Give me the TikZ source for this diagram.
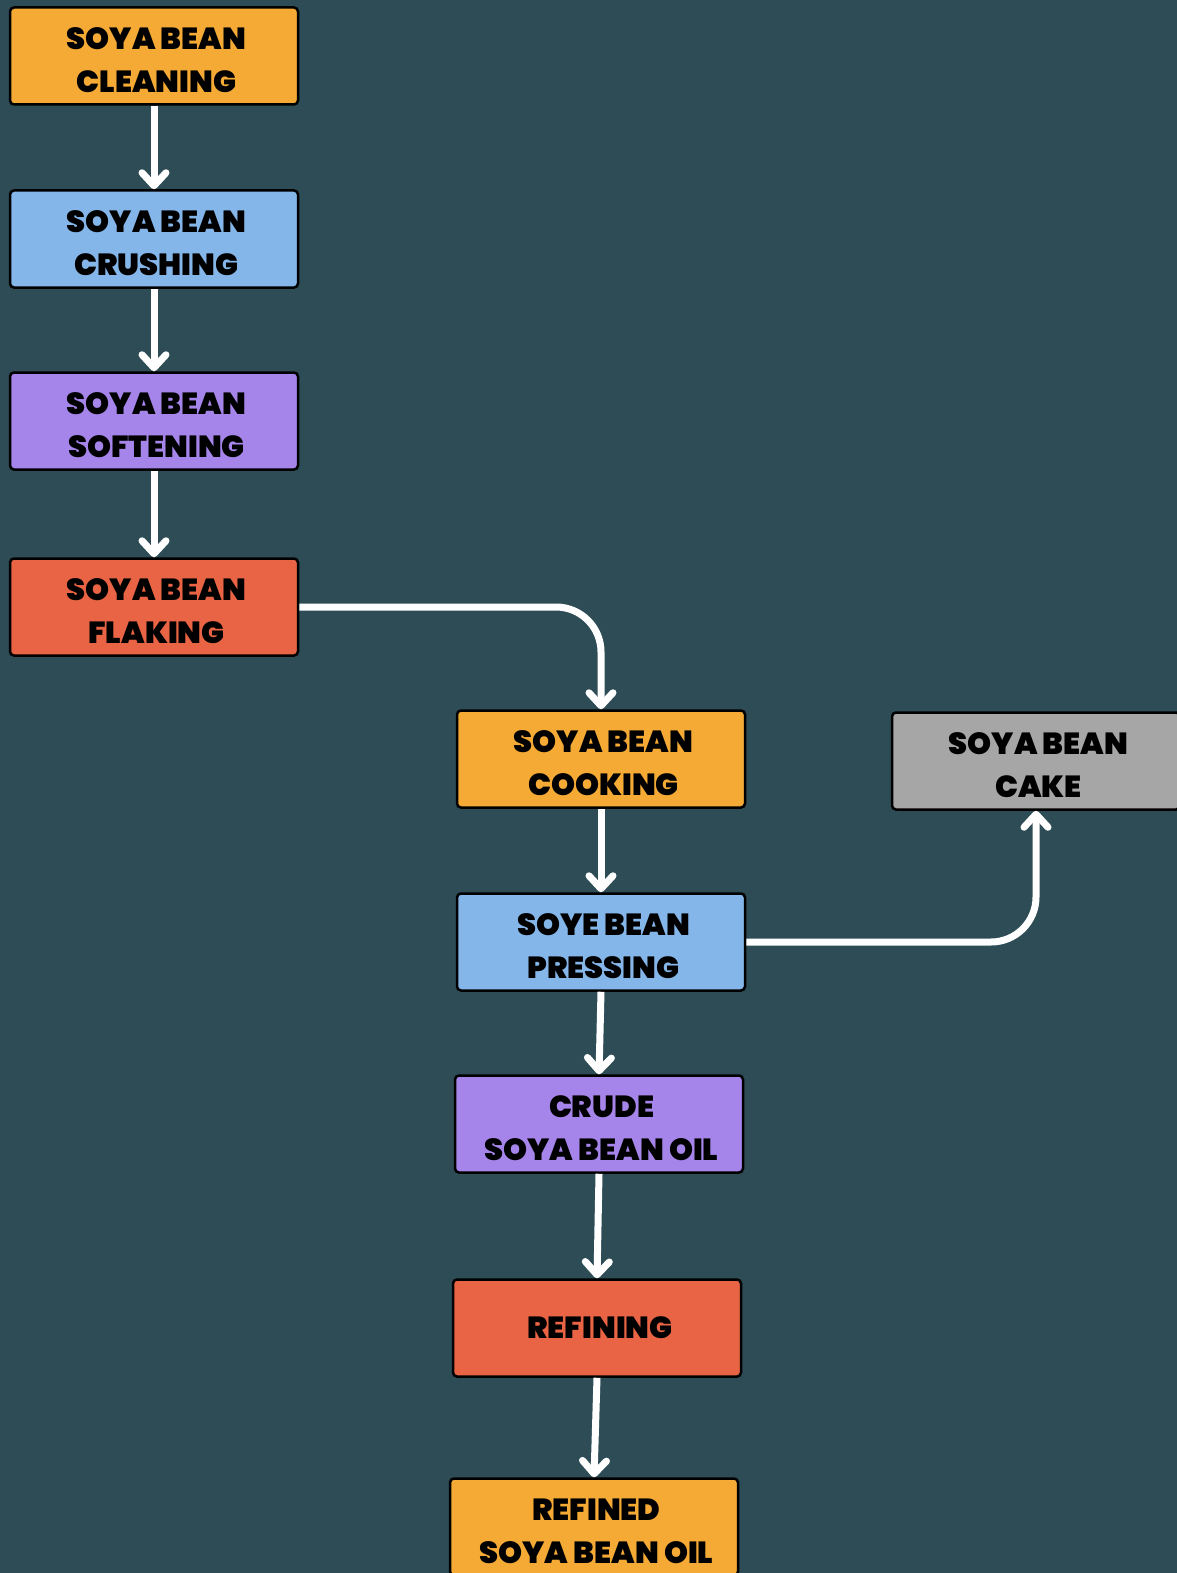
\documentclass[tikz,border=0pt]{standalone}
\usepackage{fontspec}
\newfontfamily\stepfont{Poppins Black}
\usetikzlibrary{arrows.meta}

\definecolor{bgteal}{HTML}{2D4C56}
\definecolor{boxorange}{HTML}{F4AA35}
\definecolor{boxblue}{HTML}{85B6E9}
\definecolor{boxpurple}{HTML}{A685EB}
\definecolor{boxred}{HTML}{E96444}
\definecolor{boxgray}{HTML}{A6A6A6}

\newcommand{\steptext}[1]{\hspace*{5pt}\raisebox{-6pt}[\height][\depth]{\begin{tabular}{@{}c@{}}#1\end{tabular}}}

\tikzset{
  stepbox/.style={draw=black, line width=2.5pt, rounded corners=4pt,
    minimum width=288pt, minimum height=97pt, align=center,
    font=\stepfont\fontsize{30.5}{43}\selectfont, text=black},
  flow/.style={draw=white, line width=7pt,
    -{Straight Barb[length=13pt,width=24pt,round]}}
}

\begin{document}
\begin{tikzpicture}[x=1pt,y=-1pt]
\useasboundingbox[fill=bgteal] (0,0) rectangle (1177,1573);
\node[stepbox,fill=boxorange] (clean) at (154,56) {\steptext{SOYA BEAN\\CLEANING}};
\node[stepbox,fill=boxblue] (crush) at (154,239) {\steptext{SOYA BEAN\\CRUSHING}};
\node[stepbox,fill=boxpurple] (soften) at (154,421) {\steptext{SOYA BEAN\\SOFTENING}};
\node[stepbox,fill=boxred] (flake) at (154,607) {\steptext{SOYA BEAN\\FLAKING}};
\node[stepbox,fill=boxorange] (cook) at (601,759) {\steptext{SOYA BEAN\\COOKING}};
\node[stepbox,fill=boxblue] (press) at (601,942) {\steptext{SOYE BEAN\\PRESSING}};
\node[stepbox,fill=boxpurple] (crude) at (599,1124) {\steptext{CRUDE\\SOYA BEAN OIL}};
\node[stepbox,fill=boxred] (refine) at (597,1328) {\hspace*{6pt}REFINING};
\node[stepbox,fill=boxorange] (refined) at (594,1527) {\steptext{REFINED\\SOYA BEAN OIL}};
\node[stepbox,fill=boxgray] (cake) at (1036,761) {\steptext{SOYA BEAN\\CAKE}};
% main line
\draw[flow] (clean.south) -- (crush.north);
\draw[flow] (crush.south) -- (soften.north);
\draw[flow] (soften.south) -- (flake.north);
\draw[flow, rounded corners=45pt] (flake.east) -| (cook.north);
\draw[flow] (cook.south) -- (press.north);
\draw[flow, rounded corners=45pt] (press.east) -| (cake.south);
\draw[flow] (press.south) -- (crude.north);
\draw[flow] (crude.south) -- (refine.north);
\draw[flow] (refine.south) -- (refined.north);
\end{tikzpicture}
\end{document}
